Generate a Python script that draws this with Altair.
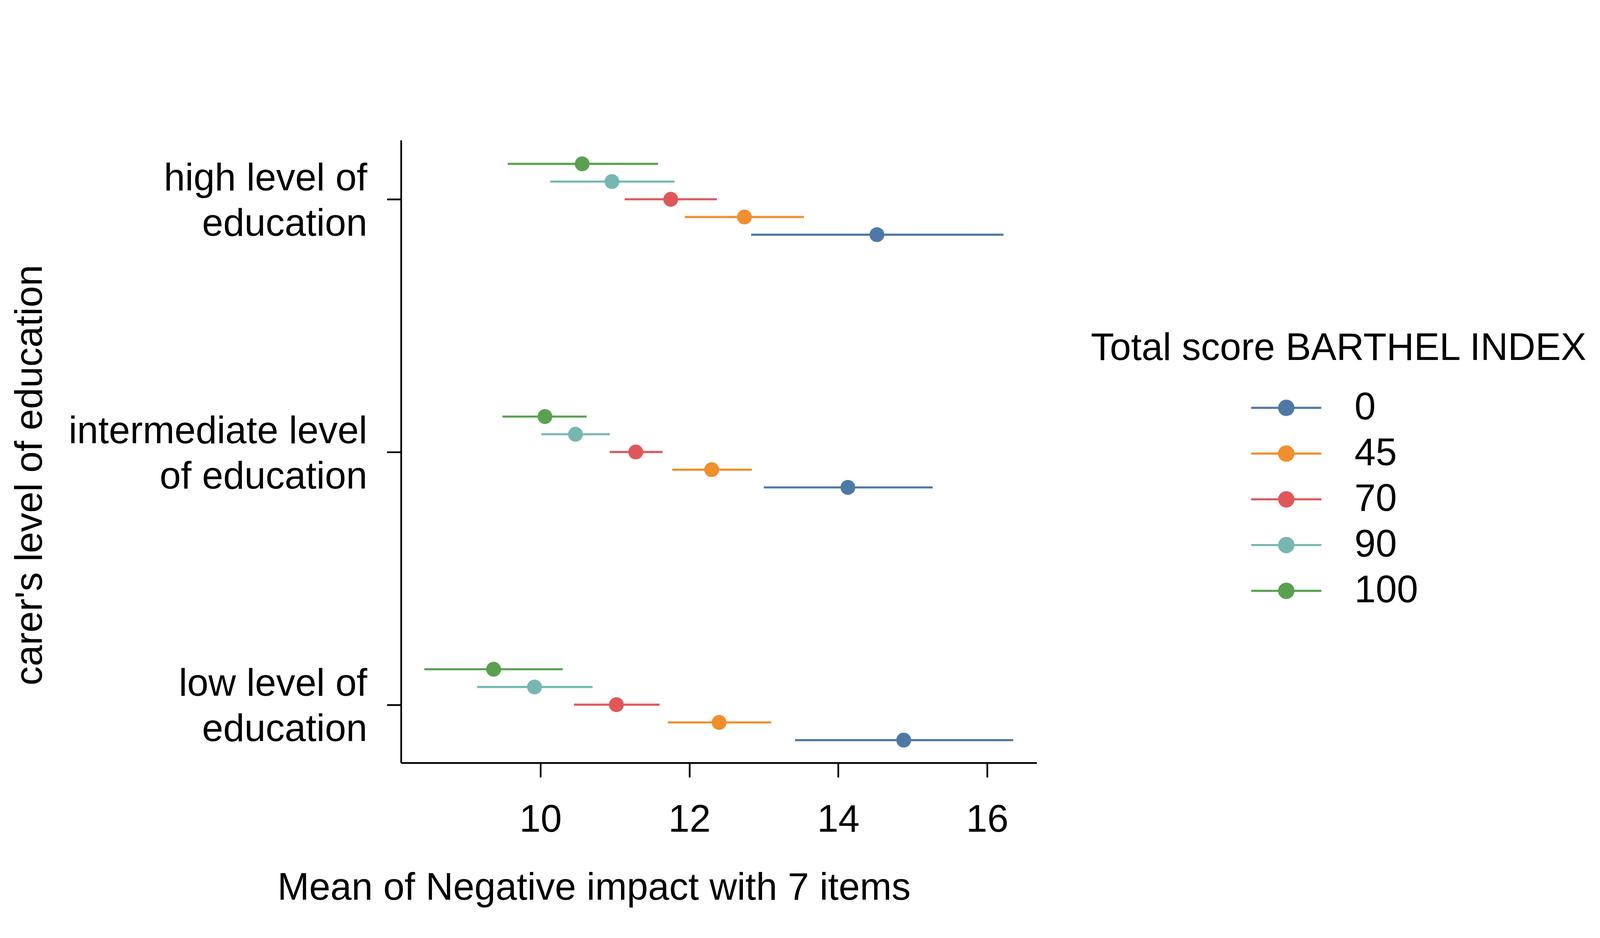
import altair as alt
import pandas as pd

groups = ["high level of education", "intermediate level of education", "low level of education"]
series = ["0", "45", "70", "90", "100"]
colors = ["#4e79a7", "#f28e2b", "#e15759", "#76b7b2", "#59a14f"]

mean_high = [14.52, 12.74, 11.75, 10.96, 10.56]
mean_mid = [14.13, 12.30, 11.28, 10.47, 10.06]
mean_low = [14.88, 12.40, 11.02, 9.92, 9.37]

lo_high = [12.83, 11.94, 11.13, 10.13, 9.56]
lo_mid = [13.00, 11.77, 10.93, 10.01, 9.49]
lo_low = [13.42, 11.71, 10.45, 9.15, 8.44]

hi_high = [16.22, 13.54, 12.37, 11.80, 11.58]
hi_mid = [15.27, 12.84, 11.64, 10.93, 10.62]
hi_low = [16.35, 13.10, 11.60, 10.70, 10.30]

x_ticks = [10, 12, 14, 16]

rows = []
for g, m, l, h in zip(groups, [mean_high, mean_mid, mean_low], [lo_high, lo_mid, lo_low], [hi_high, hi_mid, hi_low]):
    for s, mv, lv, hv in zip(series, m, l, h):
        rows.append({"group": g, "series": s, "mean": mv, "lo": lv, "hi": hv})
df = pd.DataFrame(rows)

FONT = "Liberation Sans"

ypos_expr = (
    "3 - indexof(" + str(groups) + ", datum.group)"
    " + (indexof(" + str(series) + ", datum.series) - 2) * 0.0701"
)

xscale = alt.Scale(domain=[8.126, 16.666], nice=False, zero=False)
yscale = alt.Scale(domain=[0.77, 3.234], nice=False, zero=False)
cscale = alt.Scale(domain=series, range=colors)

xaxis = alt.Axis(
    values=x_ticks, grid=False, domainColor="black", domainWidth=4.5,
    tickColor="black", tickWidth=4.5, tickSize=38,
    labelFont=FONT, labelFontSize=100, labelColor="black",
    labelBaseline="alphabetic", labelPadding=142, labelFlush=False,
    title="Mean of Negative impact with 7 items",
    titleFont=FONT, titleFontSize=100, titleFontWeight="normal", titleColor="black",
    titleX=506, titleY=359, titleBaseline="alphabetic", titleAlign="center", titleAnchor="start",
)

label_expr = (
    "datum.value == 3 ? ['high level of', 'education'] : "
    "datum.value == 2 ? ['intermediate level', 'of education'] : "
    "['low level of', 'education']"
)

yaxis = alt.Axis(
    values=[1, 2, 3], grid=False, domainColor="black", domainWidth=4.5,
    tickColor="black", tickWidth=4.5, tickSize=37,
    labelFont=FONT, labelFontSize=100, labelColor="black", labelExpr=label_expr,
    labelLineHeight=119, labelPadding=52, labelAlign="right", labelBaseline="middle",
    labelLimit=0, labelOffset=-54,
    title="carer's level of education",
    titleFont=FONT, titleFontSize=100, titleFontWeight="normal", titleColor="black",
    titleX=-943, titleY=878, titleBaseline="alphabetic", titleAlign="center", titleAngle=270,
)

sym_path = (
    "M-4.72,-0.141 L-1.094,-0.141 A1.103,1.103 0 0 1 1.094,-0.141 L4.72,-0.141 "
    "L4.72,0.141 L1.094,0.141 A1.103,1.103 0 0 1 -1.094,0.141 L-4.72,0.141 Z"
)

legend = alt.Legend(
    title="Total score BARTHEL INDEX", orient="none", legendX=1810, legendY=497,
    padding=0, titleFont=FONT, titleFontSize=100, titleFontWeight="normal", titleColor="black",
    titleLimit=0, labelLimit=0, labelFont=FONT, labelFontSize=100, labelColor="black",
    symbolType=sym_path, symbolSize=1520, symbolStrokeWidth=0,
    symbolOffset=463, labelOffset=129, rowPadding=20, titlePadding=55,
)

base = alt.Chart(df).transform_calculate(ypos=ypos_expr)

rules = base.mark_rule(strokeWidth=5.5).encode(
    x=alt.X("lo:Q", scale=xscale, axis=xaxis),
    x2="hi:Q",
    y=alt.Y("ypos:Q", scale=yscale, axis=yaxis),
    color=alt.Color("series:N", scale=cscale, legend=None),
)

points = base.mark_circle(size=1520, opacity=1).encode(
    x=alt.X("mean:Q", scale=xscale, axis=xaxis),
    y=alt.Y("ypos:Q", scale=yscale, axis=yaxis),
    color=alt.Color("series:N", scale=cscale, legend=legend),
)

chart = alt.layer(rules, points).resolve_legend(color="independent").properties(
    width=1668, height=1633,
    autosize=alt.AutoSizeParams(type="none"),
    padding={"left": 1044, "top": 330, "right": 1470, "bottom": 385},
    background="white",
).configure_view(stroke=None)

chart.save("out.html", embed_options={"renderer": "svg", "actions": False})
